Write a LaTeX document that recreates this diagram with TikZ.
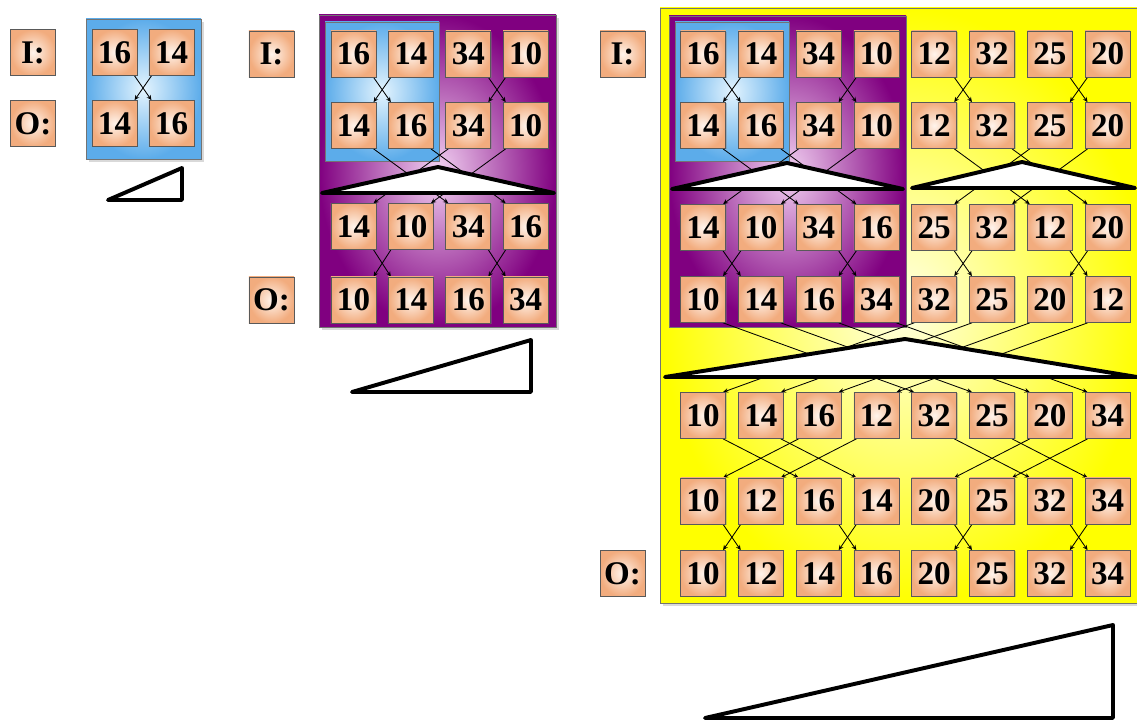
\documentclass[tikz,border=0pt]{standalone}
\usepackage{fontspec}
\setmainfont{Liberation Serif}
\usetikzlibrary{arrows.meta, shadows}

\definecolor{peach}{RGB}{242,172,126}
\definecolor{peachlight}{RGB}{255,244,236}
\definecolor{skyblue}{RGB}{92,172,234}
\definecolor{skylight}{RGB}{228,244,254}
\definecolor{plum}{RGB}{128,0,128}
\definecolor{plumlight}{RGB}{242,210,242}
\definecolor{lemon}{RGB}{255,255,0}
\definecolor{lemonlight}{RGB}{255,255,228}

\pgfdeclarelayer{panels}
\pgfdeclarelayer{wires}
\pgfsetlayers{panels,wires,main}

% compare-exchange: prefix, row, left column, right column
\newcommand{\cmpr}[4]{%
  \pgfmathtruncatemacro\nr{#2+1}%
  \draw[wire] ([xshift=-2pt]#1#2-#3.south east) -- ([xshift=2pt]#1\nr-#4.north west);
  \draw[wire] ([xshift=2pt]#1#2-#4.south west) -- ([xshift=-2pt]#1\nr-#3.north east);
}

\begin{document}
\begin{tikzpicture}[x=0.025cm, y=-0.025cm,
  num/.style={draw=black!65, line width=0.5pt, inner color=peachlight, outer color=peach,
    minimum width=1.125cm, minimum height=1.15cm, inner sep=0pt,
    font=\fontsize{23.5}{23.5}\selectfont\bfseries,
    drop shadow={shadow xshift=0.7pt, shadow yshift=-0.7pt, opacity=0.4}},
  panel/.style={draw=black!55, line width=0.4pt},
  wire/.style={line width=0.6pt, -{Stealth[length=3.6pt, width=3.2pt]}},
  wedge/.style={draw=black, line width=2.8pt, fill=white, line join=round}]
  \useasboundingbox (0,0) rectangle (1137,722);

  % backgrounds
  \begin{pgfonlayer}{panels}
    \draw[panel, inner color=skylight, outer color=skyblue, drop shadow={opacity=0.3}] (86,19) rectangle (201,159);
    \draw[panel, inner color=plumlight, outer color=plum, drop shadow={opacity=0.3}] (319,15) rectangle (556,327);
    \draw[panel, inner color=skylight, outer color=skyblue] (325,22) rectangle (439,161);
    \draw[panel, inner color=lemonlight, outer color=lemon, drop shadow={opacity=0.3}] (660,8) rectangle (1145,603);
    \draw[panel, inner color=plumlight, outer color=plum] (669,16) rectangle (906,327);
    \draw[panel, inner color=skylight, outer color=skyblue] (675,22) rectangle (789,161);
  \end{pgfonlayer}

  % two keys
  \node[num] (ai) at (33,52.5) {I:};
  \node[num] (ao) at (33,123.5) {O:};
  \foreach \vals [count=\r] in {{16,14},{14,16}} {
    \pgfmathsetmacro\y{{52.5,123.5}[\r-1]}
    \foreach \v [count=\c] in \vals {
      \pgfmathsetmacro\x{114.5+57*(\c-1)}
      \node[num] (a\r-\c) at (\x,\y) {\v};
    }
  }

  % four keys
  \node[num] (bi) at (271.5,54) {I:};
  \node[num] (bo) at (271.5,300) {O:};
  \foreach \vals [count=\r] in {{16,14,34,10},{14,16,34,10},{14,10,34,16},{10,14,16,34}} {
    \pgfmathsetmacro\y{{54,125.5,226.5,300}[\r-1]}
    \foreach \v [count=\c] in \vals {
      \pgfmathsetmacro\x{353.5+57.4*(\c-1)}
      \node[num] (b\r-\c) at (\x,\y) {\v};
    }
  }

  % eight keys
  \node[num] (ci) at (622.5,54) {I:};
  \node[num] (co) at (622.5,573.5) {O:};
  \foreach \vals [count=\r] in {{16,14,34,10,12,32,25,20},{14,16,34,10,12,32,25,20},
      {14,10,34,16,25,32,12,20},{10,14,16,34,32,25,20,12},{10,14,16,12,32,25,20,34},
      {10,12,16,14,20,25,32,34},{10,12,14,16,20,25,32,34}} {
    \pgfmathsetmacro\y{{54,125.5,227.5,299.5,415.5,501,573.5}[\r-1]}
    \foreach \v [count=\c] in \vals {
      \pgfmathsetmacro\x{703+57.8*(\c-1)}
      \node[num] (c\r-\c) at (\x,\y) {\v};
    }
  }

  % comparators
  \begin{pgfonlayer}{wires}
    \cmpr{a}{1}{1}{2}
    \foreach \r/\i/\j in {1/1/2,1/3/4,2/1/3,2/2/4,3/1/2,3/3/4} {\cmpr{b}{\r}{\i}{\j}}
    \foreach \r in {1,3,6} {\foreach \i/\j in {1/2,3/4,5/6,7/8} {\cmpr{c}{\r}{\i}{\j}}}
    \foreach \r in {2,5} {\foreach \i/\j in {1/3,2/4,5/7,6/8} {\cmpr{c}{\r}{\i}{\j}}}
    \foreach \i/\j in {1/5,2/6,3/7,4/8} {\cmpr{c}{4}{\i}{\j}}
  \end{pgfonlayer}

  % merge wedges
  \draw[wedge] (322,193) -- (438,167) -- (554,193) -- cycle;
  \draw[wedge] (672,189) -- (787,163) -- (903,189) -- cycle;
  \draw[wedge] (912,188) -- (1022,162) -- (1135,188) -- cycle;
  \draw[wedge] (665,377) -- (905,339) -- (1137,377) -- cycle;

  % size wedges
  \draw[wedge] (108,200) -- (182,168) -- (182,200) -- cycle;
  \draw[wedge] (352,392) -- (531,340) -- (531,392) -- cycle;
  \draw[wedge] (705,718) -- (1113,625) -- (1113,718) -- cycle;
\end{tikzpicture}
\end{document}
